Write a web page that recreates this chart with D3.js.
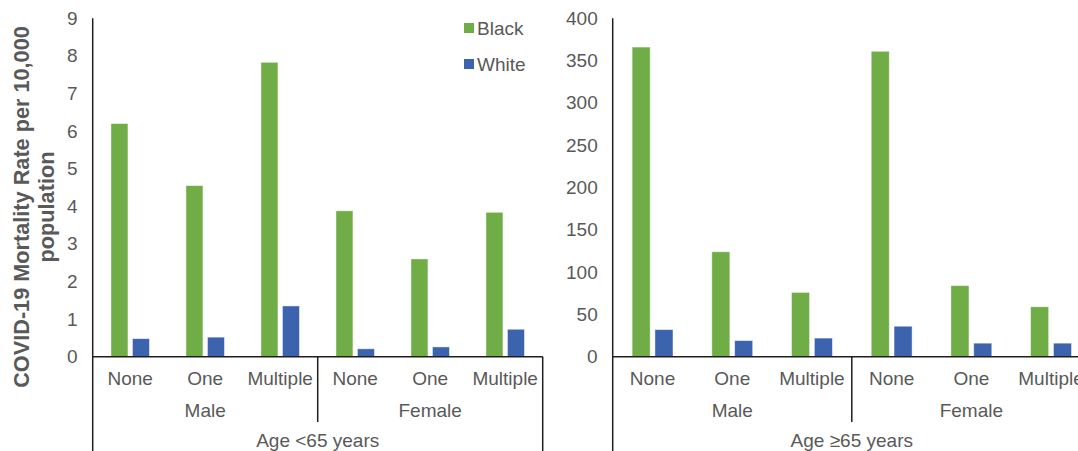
<!DOCTYPE html>
<html>
<head>
<meta charset="utf-8">
<script src="https://cdn.jsdelivr.net/npm/d3@7"></script>
<style>
  body { margin: 0; background: #fff; }
  text { font-family: "Liberation Sans", Arial, sans-serif; fill: #595959; }
</style>
</head>
<body>
<div id="chart"></div>
<script>
// categories
const comorbidity = ['None', 'One', 'Multiple']
const sexes = ['Male', 'Female']
const series = ['Black', 'White']
const ageGroups = ['Age <65 years', 'Age \u226565 years']

// values, ordered Male None/One/Multiple then Female None/One/Multiple
const blackUnder65 = [6.2, 4.55, 7.83, 3.88, 2.6, 3.84]
const whiteUnder65 = [0.48, 0.52, 1.35, 0.21, 0.26, 0.73]
const black65Plus = [366, 124, 76, 361, 84, 59]
const white65Plus = [32, 19, 22, 36, 16, 16]

// tick labels
const ticksUnder65 = [0, 1, 2, 3, 4, 5, 6, 7, 8, 9]
const ticks65Plus = [0, 50, 100, 150, 200, 250, 300, 350, 400]

const colors = { Black: '#70ad47', White: '#3c64ae' }

const width = 1078
const height = 451
const baseY = 356.7
const topY = 18.3
const lineColor = '#1f1f1f'

const svg = d3
  .select('#chart')
  .append('svg')
  .attr('width', width)
  .attr('height', height)

// each panel: data + where it sits
const panels = [
  { label: ageGroups[0], black: blackUnder65, white: whiteUnder65, ticks: ticksUnder65, left: 92.7, right: 542.7 },
  { label: ageGroups[1], black: black65Plus, white: white65Plus, ticks: ticks65Plus, left: 612.7, right: 1090.9 }
]

function drawPanel(p) {
  const keys = d3.range(sexes.length * comorbidity.length)
  const rows = keys.map(i => ({ key: i, Black: p.black[i], White: p.white[i] }))

  const x0 = d3.scaleBand().domain(keys).range([p.left, p.right])
  const x1 = d3.scaleBand().domain(series).range([0, x0.bandwidth()]).paddingInner(0.21).paddingOuter(0.85)
  const y = d3
    .scaleLinear()
    .domain([0, d3.max(p.ticks)])
    .range([baseY, topY])

  const g = svg.append('g')

  // y axis labels (no tick marks, no domain)
  const yAxis = g
    .append('g')
    .attr('transform', 'translate(' + p.left + ',0)')
    .call(d3.axisLeft(y).tickValues(p.ticks).tickSize(0).tickPadding(15))
  yAxis.select('.domain').remove()
  yAxis
    .selectAll('text')
    .style('font-size', '19px')
    .style('font-family', '"Liberation Sans", Arial, sans-serif')
    .attr('fill', '#595959')

  // bars
  g.selectAll('.grp')
    .data(rows)
    .enter()
    .append('g')
    .attr('transform', d => 'translate(' + x0(d.key) + ',0)')
    .selectAll('rect')
    .data(d => series.map(s => ({ s: s, value: d[s] })))
    .enter()
    .append('rect')
    .attr('x', d => x1(d.s))
    .attr('width', x1.bandwidth())
    .attr('y', d => y(d.value))
    .attr('height', d => y(0) - y(d.value))
    .attr('fill', d => colors[d.s])
    .attr('stroke', 'rgba(255,255,255,0.55)')
    .attr('stroke-width', 0.8)

  // axis lines
  g.append('line')
    .attr('x1', p.left).attr('x2', p.left)
    .attr('y1', topY).attr('y2', height)
    .attr('stroke', lineColor).attr('stroke-width', 1.5)
  g.append('line')
    .attr('x1', p.left).attr('x2', p.right)
    .attr('y1', baseY).attr('y2', baseY)
    .attr('stroke', lineColor).attr('stroke-width', 1.5)
  g.append('line')
    .attr('x1', p.right).attr('x2', p.right)
    .attr('y1', baseY).attr('y2', height)
    .attr('stroke', lineColor).attr('stroke-width', 1.5)

  // divider between Male and Female
  const mid = x0(comorbidity.length)
  g.append('line')
    .attr('x1', mid).attr('x2', mid)
    .attr('y1', baseY).attr('y2', 422)
    .attr('stroke', lineColor).attr('stroke-width', 1.5)

  // category labels
  g.selectAll('.cat')
    .data(keys)
    .enter()
    .append('text')
    .attr('x', d => x0(d) + x0.bandwidth() / 2)
    .attr('y', 385)
    .attr('text-anchor', 'middle')
    .style('font-size', '19px')
    .text(d => comorbidity[d % comorbidity.length])

  g.selectAll('.sex')
    .data(sexes)
    .enter()
    .append('text')
    .attr('x', (d, i) => x0(i * comorbidity.length) + (x0.bandwidth() * comorbidity.length) / 2)
    .attr('y', 417)
    .attr('text-anchor', 'middle')
    .style('font-size', '19px')
    .text(d => d)

  g.append('text')
    .attr('x', (p.left + p.right) / 2)
    .attr('y', 447)
    .attr('text-anchor', 'middle')
    .style('font-size', '19px')
    .text(p.label)
}

panels.forEach(drawPanel)

// y axis title
const title = svg.append('g').attr('transform', 'translate(0,207) rotate(-90)')
title.append('text')
  .attr('x', 0).attr('y', 29)
  .attr('text-anchor', 'middle')
  .style('font-size', '21.7px')
  .style('font-weight', 'bold')
  .text('COVID-19 Mortality Rate per 10,000')
title.append('text')
  .attr('x', 0).attr('y', 54)
  .attr('text-anchor', 'middle')
  .style('font-size', '21.7px')
  .style('font-weight', 'bold')
  .text('population')

// legend
const legend = svg
  .selectAll('.legend')
  .data(series)
  .enter()
  .append('g')
  .attr('transform', (d, i) => 'translate(464,' + (23 + i * 36) + ')')
legend.append('rect')
  .attr('width', 10).attr('height', 10)
  .attr('fill', d => colors[d])
legend.append('text')
  .attr('x', 13).attr('y', 12)
  .style('font-size', '19px')
  .text(d => d)
</script>
</body>
</html>
